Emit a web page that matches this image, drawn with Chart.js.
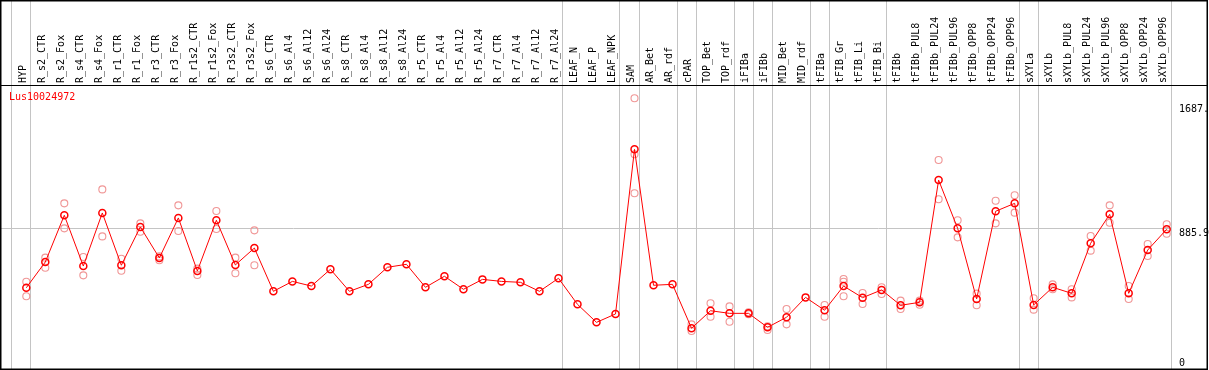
<!DOCTYPE html>
<html>
<head>
<meta charset="utf-8">
<script src="https://cdn.jsdelivr.net/npm/chart.js@4/dist/chart.umd.min.js"></script>
<style>
  html, body { margin: 0; padding: 0; background: #ffffff; }
  #wrap { width: 1209px; height: 370px; position: relative; }
</style>
</head>
<body>
<div id="wrap"><canvas id="c" width="1209" height="370"></canvas></div>
<script>
const geneName = "Lus10024972";

const categories = ["HYP","R_s2_CTR","R_s2_Fox","R_s4_CTR","R_s4_Fox","R_r1_CTR","R_r1_Fox","R_r3_CTR","R_r3_Fox",
  "R_r1s2_CTR","R_r1s2_Fox","R_r3s2_CTR","R_r3s2_Fox","R_s6_CTR","R_s6_Al4","R_s6_Al12","R_s6_Al24",
  "R_s8_CTR","R_s8_Al4","R_s8_Al12","R_s8_Al24","R_r5_CTR","R_r5_Al4","R_r5_Al12","R_r5_Al24",
  "R_r7_CTR","R_r7_Al4","R_r7_Al12","R_r7_Al24","LEAF_N","LEAF_P","LEAF_NPK","SAM","AR_Bet","AR_rdf",
  "cPAR","TOP_Bet","TOP_rdf","iFIBa","iFIBb","MID_Bet","MID_rdf","tFIBa","tFIB_Gr","tFIB_Li","tFIB_Bi",
  "tFIBb","tFIBb_PUL8","tFIBb_PUL24","tFIBb_PUL96","tFIBb_OPP8","tFIBb_OPP24","tFIBb_OPP96",
  "sXYLa","sXYLb","sXYLb_PUL8","sXYLb_PUL24","sXYLb_PUL96","sXYLb_OPP8","sXYLb_OPP24","sXYLb_OPP96"];

// number of categories in each sample group (group separators)
const groupSizes = [1, 28, 3, 1, 2, 1, 2, 1, 1, 2, 1, 3, 7, 1, 7];

const meanValues = [503,669,970,643,985,648,895,695,953,611,938,650,759,480,544,514,622,480,525,635,654,
  506,577,493,557,544,538,480,564,396,280,334,1395,519,525,242,355,338,338,248,313,441,358,514,439,489,
  390,409,1197,886,431,996,1047,392,506,467,790,976,467,746,880];

const rep1Values = [542,697,1047,701,1137,690,918,705,1034,626,998,697,873,null,null,null,null,null,null,null,null,
  null,null,null,null,null,null,null,null,null,null,null,1724,null,null,267,403,383,345,255,366,null,392,559,469,506,
  420,420,1326,938,465,1064,1099,435,525,493,837,1034,514,785,912];

const rep2Values = [448,632,886,583,834,613,864,680,869,585,882,596,648,null,null,null,null,null,null,null,null,
  null,null,null,null,null,null,null,null,null,null,null,1112,null,null,224,316,284,332,231,267,null,316,448,398,463,
  366,393,1073,828,390,918,987,362,493,441,742,922,431,708,851];

const rep3Values = [null,null,null,null,null,null,null,null,null,null,null,null,null,null,null,null,null,null,null,null,null,
  null,null,null,null,null,null,null,null,null,null,null,1363,null,null,null,null,null,null,null,null,null,null,542,null,null,
  null,null,null,null,null,null,null,null,null,null,null,null,null,null,null];

const yTickValues = [0, 885.9, 1687];
const yTickLabels = ["0", "885.9", "1687."];

const toXY = arr => arr.map((v, i) => ({x: i, y: v}));

const MONO = "'DejaVu Sans Mono', 'Liberation Mono', monospace";

const framePlugin = {
  id: 'frame',
  beforeDatasetsDraw(chart) {
    const ctx = chart.ctx;
    const xs = chart.scales.x;
    const area = chart.chartArea;
    ctx.save();
    ctx.strokeStyle = '#c4c4c4';
    ctx.lineWidth = 1;
    let ends = [-1];
    let acc = -1;
    groupSizes.forEach(s => { acc += s; ends.push(acc); });
    ends.forEach(e => {
      const px = Math.round(xs.getPixelForValue(e + 0.21)) + 0.5;
      ctx.beginPath();
      ctx.moveTo(px, 0);
      ctx.lineTo(px, area.bottom);
      ctx.stroke();
    });
    ctx.restore();
  },
  afterDraw(chart) {
    const ctx = chart.ctx;
    const area = chart.chartArea;
    const ys = chart.scales.y;
    ctx.save();
    ctx.font = "10px " + MONO;
    ctx.fillStyle = '#000000';
    ctx.textAlign = 'left';
    ctx.textBaseline = 'top';
    yTickValues.forEach((v, i) => {
      let py = ys.getPixelForValue(v);
      if (py > area.bottom - 11) py = area.bottom - 11;
      ctx.fillText(yTickLabels[i], area.right + 8, py);
    });
    ctx.fillStyle = '#ff0000';
    ctx.fillText(geneName, area.left + 8, area.top + 7);
    ctx.strokeStyle = '#000000';
    ctx.lineWidth = 1.5;
    ctx.strokeRect(0.75, 0.75, chart.width - 2.5, chart.height - 1.5);
    ctx.lineWidth = 1.2;
    ctx.beginPath();
    ctx.moveTo(0, area.top + 0.5);
    ctx.lineTo(chart.width - 1, area.top + 0.5);
    ctx.stroke();
    ctx.restore();
  }
};

const repStyle = {
  showLine: false,
  pointStyle: 'circle',
  pointRadius: 3.5,
  pointHoverRadius: 3.5,
  pointBorderWidth: 1.1,
  pointBorderColor: 'rgb(240,150,150)',
  pointBackgroundColor: 'rgba(0,0,0,0)',
  borderColor: 'rgb(240,150,150)'
};

new Chart(document.getElementById('c'), {
  type: 'line',
  data: {
    datasets: [
      {
        label: 'mean',
        data: toXY(meanValues),
        borderColor: '#ff0000',
        borderWidth: 1,
        tension: 0,
        pointStyle: 'circle',
        pointRadius: 3.5,
        pointHoverRadius: 3.5,
        pointBorderWidth: 1.5,
        pointBorderColor: '#ff0000',
        pointBackgroundColor: 'rgba(0,0,0,0)'
      },
      Object.assign({label: 'rep1', data: toXY(rep1Values)}, repStyle),
      Object.assign({label: 'rep2', data: toXY(rep2Values)}, repStyle),
      Object.assign({label: 'rep3', data: toXY(rep3Values)}, repStyle)
    ]
  },
  options: {
    responsive: false,
    animation: false,
    events: [],
    layout: { autoPadding: false, padding: { left: 1, right: 0, top: 0, bottom: 1 } },
    plugins: { legend: { display: false }, title: { display: false }, tooltip: { enabled: false } },
    scales: {
      x: {
        type: 'linear',
        position: 'top',
        min: -1.331,
        max: 60.226,
        afterBuildTicks: s => { s.ticks = categories.map((c, i) => ({value: i})); },
        afterFit: s => { s.height = 85; s.paddingLeft = 0; s.paddingRight = 0; },
        grid: { display: false, drawTicks: false },
        border: { display: false },
        ticks: {
          autoSkip: false,
          maxRotation: 90,
          minRotation: 90,
          padding: 2,
          labelOffset: 9,
          color: '#000000',
          font: { family: MONO, size: 10 },
          callback: v => categories[v]
        }
      },
      y: {
        type: 'linear',
        position: 'right',
        min: -20.6,
        max: 1809.7,
        afterBuildTicks: s => { s.ticks = yTickValues.map(v => ({value: v})); },
        afterFit: s => { s.width = 38; s.paddingTop = 0; s.paddingBottom = 0; },
        grid: {
          drawTicks: false,
          lineWidth: 1,
          color: c => (c.tick && c.tick.value === 885.9) ? '#c4c4c4' : 'rgba(0,0,0,0)'
        },
        border: { display: false },
        ticks: { display: false }
      }
    }
  },
  plugins: [framePlugin]
});
</script>
</body>
</html>
